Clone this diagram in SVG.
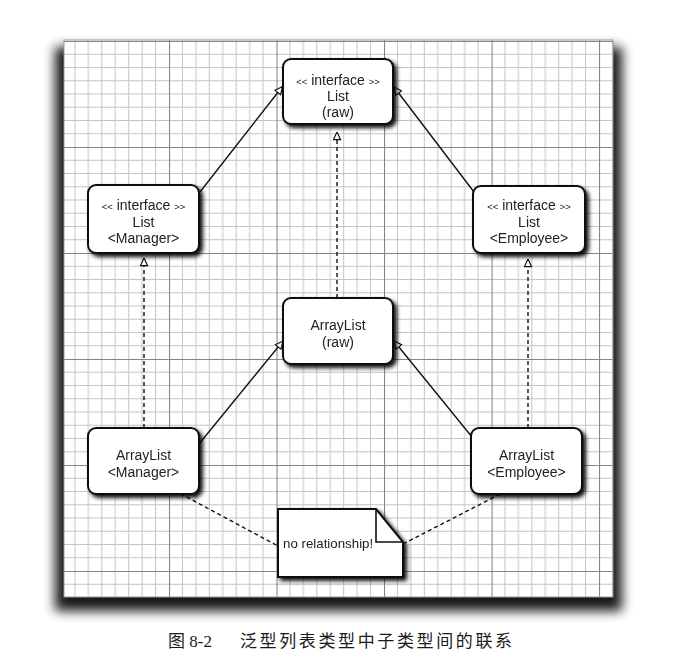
<svg xmlns="http://www.w3.org/2000/svg" width="686" height="668" viewBox="0 0 686 668">
<style>
.node{fill:#fff;stroke:#111;stroke-width:2}
.t{font-family:"Liberation Sans",Arial,sans-serif;font-size:14px;fill:#222;text-anchor:middle}
.sm{font-size:9.5px}
.solid{stroke:#111;stroke-width:1.4;fill:none}
.dash{stroke:#111;stroke-width:1.4;fill:none;stroke-dasharray:4 3}
.cap{font-family:"Liberation Serif","Noto Sans CJK SC",serif;font-size:17px;fill:#1a1a1a}
</style>
<defs>
<pattern id="grid" patternUnits="userSpaceOnUse" x="169" y="147" width="107.5" height="106">
<g stroke="#c4c4c4" stroke-width="1">
<path d="M13.44 0V106M26.88 0V106M40.31 0V106M53.75 0V106M67.19 0V106M80.63 0V106M94.06 0V106"/>
<path d="M0 13.25H107.5M0 26.5H107.5M0 39.75H107.5M0 53H107.5M0 66.25H107.5M0 79.5H107.5M0 92.75H107.5"/>
</g>
<path d="M0.5 0V106M0 0.5H107.5" stroke="#858585" stroke-width="1.2"/>
</pattern>
<filter id="sheetShadow" x="-10%" y="-10%" width="120%" height="120%">
<feGaussianBlur stdDeviation="6"/>
</filter>
<filter id="ns" x="-20%" y="-20%" width="140%" height="140%">
<feGaussianBlur in="SourceAlpha" stdDeviation="2.2"/>
<feOffset dx="3" dy="3" result="b"/>
<feComponentTransfer in="b" result="c"><feFuncA type="linear" slope="0.95"/></feComponentTransfer>
<feMerge><feMergeNode in="c"/><feMergeNode in="SourceGraphic"/></feMerge>
</filter>
<marker id="tri" viewBox="0 0 10 10" refX="9.5" refY="5" markerWidth="9" markerHeight="9" markerUnits="userSpaceOnUse" orient="auto">
<path d="M1 1L9.5 5L1 9Z" fill="#fff" stroke="#111" stroke-width="1.3"/>
</marker>
</defs>
<rect width="686" height="668" fill="#fff"/>
<g id="sheet">
<rect x="55" y="47" width="567" height="564" fill="#000" opacity="0.9" filter="url(#sheetShadow)"/>
<rect x="64" y="40" width="549" height="557" fill="#fff"/>
<rect x="64" y="40" width="549" height="557" fill="url(#grid)"/>
<rect x="64" y="40" width="549" height="557" fill="none" stroke="#9a9a9a" stroke-width="1"/>
</g>
<g id="connectors">
<path class="solid" d="M200 192L282.5 86.5" marker-end="url(#tri)"/>
<path class="solid" d="M474 192L394 87" marker-end="url(#tri)"/>
<path class="dash" d="M337 298V132" marker-end="url(#tri)"/>
<path class="dash" d="M144 428V258" marker-end="url(#tri)"/>
<path class="dash" d="M528 428V259" marker-end="url(#tri)"/>
<path class="solid" d="M199 444L283 341" marker-end="url(#tri)"/>
<path class="solid" d="M472 437L394 341" marker-end="url(#tri)"/>
<path class="dash" d="M168 487L278 546"/>
<path class="dash" d="M403 544L508 490"/>
</g>
<g id="list-raw" filter="url(#ns)">
<rect class="node" x="283" y="59" width="110" height="65" rx="8"/>
<text class="t" x="338" y="85"><tspan class="sm">&lt;&lt;</tspan> interface <tspan class="sm">&gt;&gt;</tspan></text>
<text class="t" x="338" y="101">List</text>
<text class="t" x="338" y="117">(raw)</text>
</g>
<g id="list-manager" filter="url(#ns)">
<rect class="node" x="88" y="185" width="111" height="68" rx="8"/>
<text class="t" x="143.5" y="210"><tspan class="sm">&lt;&lt;</tspan> interface <tspan class="sm">&gt;&gt;</tspan></text>
<text class="t" x="143.5" y="227">List</text>
<text class="t" x="143.5" y="243">&lt;Manager&gt;</text>
</g>
<g id="list-employee" filter="url(#ns)">
<rect class="node" x="473" y="186" width="112" height="67" rx="8"/>
<text class="t" x="529" y="210"><tspan class="sm">&lt;&lt;</tspan> interface <tspan class="sm">&gt;&gt;</tspan></text>
<text class="t" x="529" y="227">List</text>
<text class="t" x="529" y="243">&lt;Employee&gt;</text>
</g>
<g id="arraylist-raw" filter="url(#ns)">
<rect class="node" x="283" y="298" width="110" height="66" rx="8"/>
<text class="t" x="338" y="330">ArrayList</text>
<text class="t" x="338" y="347">(raw)</text>
</g>
<g id="arraylist-manager" filter="url(#ns)">
<rect class="node" x="88" y="428" width="111" height="66" rx="8"/>
<text class="t" x="143.5" y="460">ArrayList</text>
<text class="t" x="143.5" y="477">&lt;Manager&gt;</text>
</g>
<g id="arraylist-employee" filter="url(#ns)">
<rect class="node" x="471" y="428" width="111" height="66" rx="8"/>
<text class="t" x="526.5" y="460">ArrayList</text>
<text class="t" x="526.5" y="477">&lt;Employee&gt;</text>
</g>
<g id="note" filter="url(#ns)">
<path class="node" d="M278 509H376L403 542V577H278Z"/>
<path d="M376 509V542H403" fill="none" stroke="#111" stroke-width="1.6"/>
<text class="t" x="283" y="548" style="text-anchor:start;font-size:13.3px">no relationship!</text>
</g>
<g id="caption">
<text class="cap" x="168" y="647">图 8-2</text>
<text class="cap" x="240" y="647" textLength="272" lengthAdjust="spacing">泛型列表类型中子类型间的联系</text>
</g>
</svg>
